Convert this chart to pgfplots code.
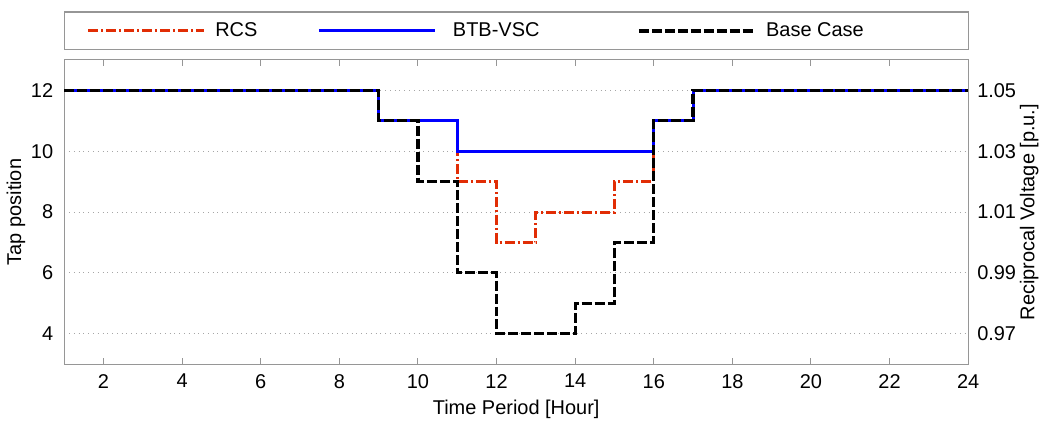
\documentclass[border=0pt]{standalone}
\usepackage{pgfplots}
\pgfplotsset{compat=1.18}
\usepackage{fontspec}
\setmainfont{Liberation Sans}
\definecolor{rcsred}{RGB}{225,45,5}
\definecolor{axgray}{RGB}{150,150,150}
\begin{document}
\fontsize{10}{12}\selectfont
\begin{tikzpicture}
\begin{axis}[
  name=main,
  scale only axis,
  width=453pt, height=152.5pt,
  xmin=1, xmax=24, ymin=3, ymax=13,
  xtick={2,4,...,24}, ytick={4,6,...,12},
  xtick pos=both, tick align=inside,
  major tick length=3pt,
  ytick style={draw=none},
  xtick style={axgray, line width=0.5pt},
  axis line style={axgray, line width=0.6pt},
  ymajorgrids,
  grid style={dotted, gray!70, line width=0.4pt},
  /pgf/number format/assume math mode=true,
  tick label style={font=\fontsize{10}{12}\selectfont},
  label style={font=\fontsize{10}{12}\selectfont},
  xticklabel style={yshift=-1.5pt},
  yticklabel style={xshift=-2pt},
  xlabel={Time Period [Hour]},
  ylabel={Tap position},
  xlabel style={yshift=1pt},
  ylabel style={yshift=-4pt},
  legend style={at={(axis description cs:0.0243,1.095)}, anchor=west,
    draw=none, fill=none, inner sep=0pt, legend columns=3,
    font=\fontsize{10}{12}\selectfont,
    /tikz/column 1/.style={column sep=3pt},
    /tikz/column 2/.style={column sep=28pt},
    /tikz/column 3/.style={column sep=6.5pt},
    /tikz/column 4/.style={column sep=47pt},
    /tikz/column 5/.style={column sep=3pt}},
  legend image code/.code={\draw[#1] (0pt,0pt) -- (58pt,0pt);},
]
\addplot[const plot, rcsred, line width=1.5pt, dash pattern=on 5pt off 1.5pt on 1pt off 1.5pt]
  coordinates {(1,12)(9,11)(11,9)(12,7)(13,8)(15,9)(16,11)(17,12)(24,12)};
\addlegendentry{RCS}
\addplot[const plot, blue, line width=1.5pt]
  coordinates {(1,12)(9,11)(11,10)(16,11)(17,12)(24,12)};
\addlegendentry{BTB-VSC}
\addplot[const plot, black, line width=1.6pt, dash pattern=on 5pt off 1.5pt]
  coordinates {(1,12)(9,11)(10,9)(11,6)(12,4)(14,5)(15,7)(16,11)(17,12)(24,12)};
\addlegendentry{Base Case}
\end{axis}
\begin{axis}[
  scale only axis,
  width=453pt, height=152.5pt,
  xmin=1, xmax=24, ymin=0.96, ymax=1.06,
  axis x line=none,
  axis y line*=right,
  axis line style={axgray, line width=0.6pt},
  ytick={0.97,0.99,1.01,1.03,1.05},
  ytick style={draw=none},
  yticklabel style={/pgf/number format/fixed, /pgf/number format/fixed zerofill, /pgf/number format/precision=2, xshift=1pt},
  /pgf/number format/assume math mode=true,
  tick label style={font=\fontsize{10}{12}\selectfont},
  label style={font=\fontsize{10}{12}\selectfont},
  ylabel={Reciprocal Voltage [p.u.]},
  ylabel style={yshift=5pt},
]
\end{axis}
\draw[axgray, line width=0.6pt] ([yshift=5pt]main.north west) rectangle ([yshift=24pt]main.north east);
\path ([xshift=-31pt,yshift=-29.5pt]main.south west) rectangle ([xshift=39.5pt,yshift=30pt]main.north east);
\end{tikzpicture}
\end{document}
